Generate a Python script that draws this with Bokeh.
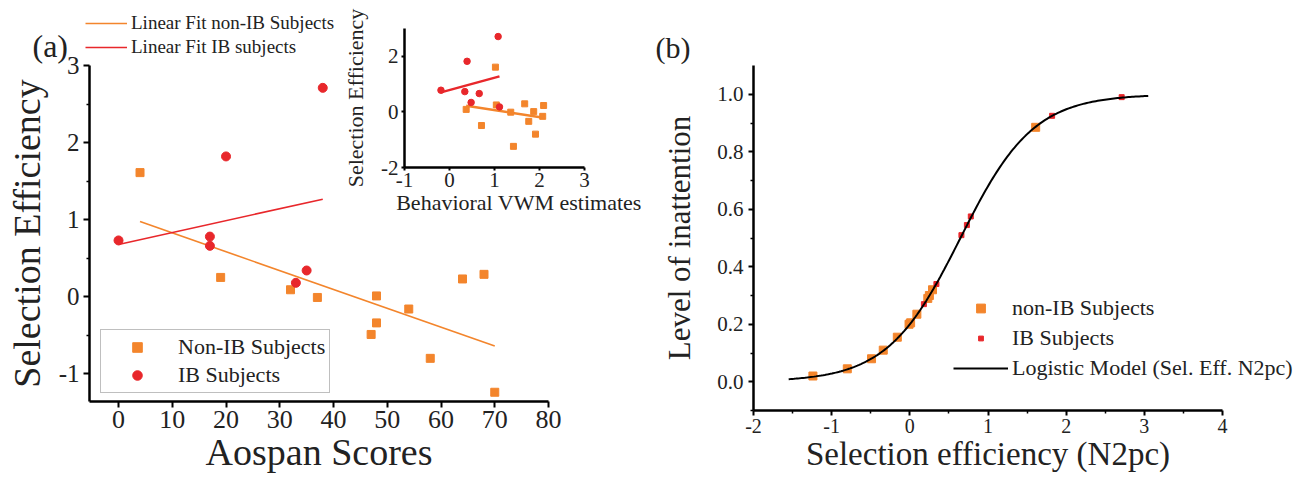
import numpy as np
from bokeh.plotting import figure
from bokeh.models import Legend, LegendItem, Label, FixedTicker, PrintfTickFormatter
from bokeh.embed import file_html
from bokeh.resources import INLINE

FONT = "Liberation Serif"
ORANGE = "#F3852C"
RED = "#E8272B"
TXT = "#222222"
NAN = float("nan")

# ---------------- data: panel (a) ----------------
aospan_nonib = [4, 19, 32, 37, 48, 48, 47, 54, 58, 64, 68, 70]
selef_nonib = [1.61, 0.25, 0.09, -0.01, 0.01, -0.34, -0.49, -0.16, -0.80, 0.23, 0.29, -1.24]
aospan_ib = [0, 17, 17, 20, 33, 35, 38]
selef_ib = [0.73, 0.78, 0.66, 1.82, 0.18, 0.34, 2.71]

# ---------------- data: inset ----------------
vwm_nonib = [0.37, 0.71, 1.02, 1.04, 1.36, 1.42, 1.67, 1.76, 1.87, 1.91, 2.07, 2.09]
inset_selef_nonib = [0.09, -0.49, 1.61, 0.25, -0.01, -1.24, 0.29, -0.34, 0.01, -0.80, -0.16, 0.23]
vwm_ib = [-0.19, 0.39, 0.34, 0.48, 0.66, 1.08, 1.11]
inset_selef_ib = [0.78, 1.82, 0.73, 0.34, 0.66, 2.71, 0.18]

# ---------------- data: panel (b) ----------------
n2pc_nonib = [-1.24, -0.80, -0.49, -0.34, -0.16, -0.01, 0.01, 0.09, 0.23, 0.25, 0.29, 1.61]
inatt_nonib = [0.02, 0.045, 0.08, 0.11, 0.155, 0.20, 0.205, 0.235, 0.29, 0.30, 0.32, 0.885]
n2pc_ib = [0.18, 0.34, 0.66, 0.73, 0.78, 1.82, 2.71]
inatt_ib = [0.27, 0.34, 0.51, 0.545, 0.575, 0.925, 0.99]
logit_intercept = -1.386
logit_slope = 2.14
curve_span = [-1.55, 3.05]

# ---------------- ticks ----------------
a_xticks = [0, 10, 20, 30, 40, 50, 60, 70, 80]
a_yticks = [-1, 0, 1, 2, 3]
a_yminor = [-0.5, 0.5, 1.5, 2.5]
in_xticks = [-1, 0, 1, 2, 3]
in_yticks = [-2, 0, 2]
b_xticks = [-2, -1, 0, 1, 2, 3, 4]
b_xminor = [-1.5, -0.5, 0.5, 1.5, 2.5, 3.5]
b_yticks = [0.0, 0.2, 0.4, 0.6, 0.8, 1.0]
b_yminor = [-0.1, 0.1, 0.3, 0.5, 0.7, 0.9]


def fit_line(x, y):
    k, c = np.polyfit(x, y, 1)
    xs = np.array([min(x), max(x)])
    return xs, k * xs + c


def place(p, left, top):
    p.styles = {"position": "absolute", "left": f"{left}px", "top": f"{top}px"}


def style(p):
    p.xgrid.visible = False
    p.ygrid.visible = False
    p.outline_line_color = None
    p.background_fill_alpha = 0
    p.border_fill_alpha = 0


def style_axis(ax, tick_size, label_size, fmt, lw=2.5):
    ax.formatter = PrintfTickFormatter(format=fmt)
    ax.axis_line_width = lw
    ax.axis_line_color = "black"
    ax.major_tick_line_width = 2
    ax.major_tick_line_color = "black"
    ax.minor_tick_line_width = 1.5
    ax.minor_tick_line_color = "black"
    ax.major_label_text_font = FONT
    ax.major_label_text_font_size = f"{tick_size}px"
    ax.major_label_text_color = TXT
    ax.axis_label_text_font = FONT
    ax.axis_label_text_font_size = f"{label_size}px"
    ax.axis_label_text_font_style = "normal"
    ax.axis_label_text_color = TXT


def legend(items, loc, gw, gh, spacing, size, border=None):
    return Legend(items=items, location=loc, padding=4 if border else 0,
                  spacing=spacing, glyph_width=gw, glyph_height=gh,
                  label_standoff=9 if border else 4,
                  label_text_font=FONT, label_text_font_size=f"{size}px",
                  label_text_color=TXT, border_line_color=border,
                  border_line_width=1.2,
                  background_fill_color="white",
                  background_fill_alpha=1.0 if border else 0, margin=0)


# ================= panel (a) =================
pa = figure(width=650, height=484, x_range=(-5.4, 80), y_range=(-1.36, 3.0),
            title=None, output_backend="svg", toolbar_location=None,
            min_border_left=89, min_border_right=102, min_border_top=65,
            min_border_bottom=83)
style(pa)
place(pa, 0, 0)
pa.xaxis.ticker = FixedTicker(ticks=a_xticks, minor_ticks=[])
pa.yaxis.ticker = FixedTicker(ticks=a_yticks, minor_ticks=a_yminor)
pa.xaxis.axis_label = "Aospan Scores"
pa.yaxis.axis_label = "Selection Efficiency"
style_axis(pa.xaxis[0], 26, 38, "%d")
style_axis(pa.yaxis[0], 25, 38, "%d")
pa.xaxis.major_tick_out = 6
pa.xaxis.major_tick_in = 0
pa.xaxis.major_label_standoff = 3
pa.xaxis.axis_label_standoff = 0
pa.yaxis.major_tick_out = 6
pa.yaxis.major_tick_in = 0
pa.yaxis.minor_tick_out = 3
pa.yaxis.minor_tick_in = 0
pa.yaxis.major_label_standoff = 4
pa.yaxis.axis_label_standoff = 8

fx, fy = fit_line(aospan_nonib, selef_nonib)
pa.line(fx, fy, line_color=ORANGE, line_width=1.6)
fx, fy = fit_line(aospan_ib, selef_ib)
pa.line(fx, fy, line_color=RED, line_width=1.6)
r_non = pa.scatter(aospan_nonib, selef_nonib, marker="square", size=8,
                   fill_color=ORANGE, line_color=ORANGE)
r_ib = pa.scatter(aospan_ib, selef_ib, marker="circle", size=9,
                  fill_color=RED, line_color=RED)

pa.add_layout(legend([LegendItem(label="Non-IB Subjects", renderers=[r_non]),
                      LegendItem(label="IB Subjects", renderers=[r_ib])],
                     (11, 8), 64, 24, 2, 22, border="#808080"))

# ================= inset =================
# frame runs a little past x=3 (axis bounded to [-1, 3]) so that the
# x label sits right of centre as in the original
pi = figure(width=310, height=220, x_range=(-1, 4.087), y_range=(-2, 3),
            title=None, output_backend="svg", toolbar_location=None,
            min_border_left=59, min_border_right=17, min_border_top=28,
            min_border_bottom=53)
style(pi)
place(pi, 340, 0)
pi.xaxis.ticker = FixedTicker(ticks=in_xticks, minor_ticks=[])
pi.yaxis.ticker = FixedTicker(ticks=in_yticks, minor_ticks=[])
pi.xaxis.bounds = (-1, 3)
pi.xaxis.axis_label = "Behavioral VWM estimates"
pi.yaxis.axis_label = "Selection Efficiency"
style_axis(pi.xaxis[0], 21, 22, "%d")
style_axis(pi.yaxis[0], 21, 22, "%d")
for ax in (pi.xaxis, pi.yaxis):
    ax.major_tick_out = 3
    ax.major_tick_in = 0
pi.xaxis.major_label_standoff = 2
pi.xaxis.axis_label_standoff = 0
pi.yaxis.major_label_standoff = 3
pi.yaxis.axis_label_standoff = 10

fx, fy = fit_line(vwm_nonib, inset_selef_nonib)
pi.line(fx, fy, line_color=ORANGE, line_width=2.5)
fx, fy = fit_line(vwm_ib, inset_selef_ib)
pi.line(fx, fy, line_color=RED, line_width=2.5)
pi.scatter(vwm_nonib, inset_selef_nonib, marker="square", size=6,
           fill_color=ORANGE, line_color=ORANGE)
pi.scatter(vwm_ib, inset_selef_ib, marker="circle", size=6.5,
           fill_color=RED, line_color=RED)

# ================= panel (b) =================
pb = figure(width=656, height=484, x_range=(-2, 4), y_range=(-0.1, 1.1),
            title=None, output_backend="svg", toolbar_location=None,
            min_border_left=103, min_border_right=84, min_border_top=65,
            min_border_bottom=74)
style(pb)
place(pb, 650, 0)
pb.xaxis.ticker = FixedTicker(ticks=b_xticks, minor_ticks=b_xminor)
pb.yaxis.ticker = FixedTicker(ticks=b_yticks, minor_ticks=b_yminor)
pb.xaxis.axis_label = "Selection efficiency (N2pc)"
pb.yaxis.axis_label = "Level of inattention"
style_axis(pb.xaxis[0], 20, 33, "%d")
style_axis(pb.yaxis[0], 21, 31, "%.1f")
for ax in (pb.xaxis, pb.yaxis):
    ax.major_tick_out = 5
    ax.major_tick_in = 0
    ax.minor_tick_out = 3
    ax.minor_tick_in = 0
pb.xaxis.major_label_standoff = 3
pb.xaxis.axis_label_standoff = 0
pb.yaxis.major_label_standoff = 5
pb.yaxis.axis_label_standoff = 17

pb.scatter(n2pc_nonib, inatt_nonib, marker="square", size=8,
           fill_color=ORANGE, line_color=ORANGE)
pb.scatter(n2pc_ib, inatt_ib, marker="square", size=5,
           fill_color=RED, line_color=RED)
cx = np.linspace(curve_span[0], curve_span[1], 200)
cy = 1.0 / (1.0 + np.exp(-(logit_intercept + logit_slope * cx)))
pb.line(cx, cy, line_color="black", line_width=2)

# ============ overlay: panel letters and legends outside the frames ============
po = figure(width=1306, height=484, x_range=(0, 1), y_range=(0, 1),
            title=None, output_backend="svg", toolbar_location=None,
            min_border=0, x_axis_location=None, y_axis_location=None)
style(po)
place(po, 0, 0)
# legend keys only (NaN data: nothing is drawn in the plot area)
k_fit_non = po.line([NAN], [NAN], line_color=ORANGE, line_width=1.6)
k_fit_ib = po.line([NAN], [NAN], line_color=RED, line_width=1.6)
k_bn = po.scatter([NAN], [NAN], marker="square", fill_color=ORANGE, line_color=ORANGE)
k_bi = po.scatter([NAN], [NAN], marker="square", fill_color=RED, line_color=RED)
k_curve = po.line([NAN], [NAN], line_color="black", line_width=2)

po.add_layout(legend([LegendItem(label="Linear Fit non-IB Subjects", renderers=[k_fit_non]),
                      LegendItem(label="Linear Fit IB subjects", renderers=[k_fit_ib])],
                     (85, 426), 42, 20, 2, 19))
po.add_layout(legend([LegendItem(label="non-IB Subjects", renderers=[k_bn])],
                     (953, 163), 55, 22, 0, 22))
po.add_layout(legend([LegendItem(label="IB Subjects", renderers=[k_bi])],
                     (953, 133), 55, 12, 0, 22))
po.add_layout(legend([LegendItem(label="Logistic Model (Sel. Eff. N2pc)", renderers=[k_curve])],
                     (953, 103), 55, 22, 0, 22))

po.add_layout(Label(x=32, y=439, x_units="screen", y_units="screen", text="(a)",
                    text_font=FONT, text_font_size="32px", text_color=TXT,
                    text_align="left", text_baseline="middle"))
po.add_layout(Label(x=655, y=437, x_units="screen", y_units="screen", text="(b)",
                    text_font=FONT, text_font_size="30px", text_color=TXT,
                    text_align="left", text_baseline="middle"))

open("out.html", "w").write(file_html([pa, pb, pi, po], INLINE))
